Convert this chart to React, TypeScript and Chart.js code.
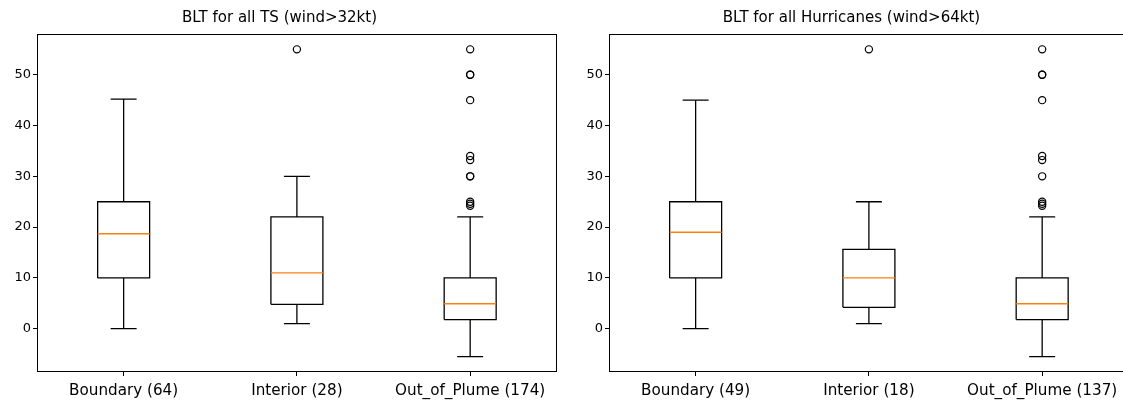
import React, { useEffect, useRef } from "react";
import { Chart, registerables } from "chart.js";

Chart.register(...registerables);

// ---------- data ----------
const titleTS = "BLT for all TS (wind>32kt)";
const titleHU = "BLT for all Hurricanes (wind>64kt)";

const categoriesTS = ["Boundary (64)", "Interior (28)", "Out_of_Plume (174)"];
const whiskerLowTS = [0, 1, -5.5];
const q1TS = [10, 4.8, 1.8];
const medianTS = [18.7, 11, 4.9];
const q3TS = [25, 22, 10];
const whiskerHighTS = [45.2, 30, 22];
const fliersTS = [[], [55], [55, 50, 50, 45, 34, 33.2, 30, 30, 25, 24.6, 24.2]];

const categoriesHU = ["Boundary (49)", "Interior (18)", "Out_of_Plume (137)"];
const whiskerLowHU = [0, 1, -5.5];
const q1HU = [10, 4.2, 1.8];
const medianHU = [19, 10, 4.9];
const q3HU = [25, 15.6, 10];
const whiskerHighHU = [45, 25, 22];
const fliersHU = [[], [55], [55, 50, 50, 45, 34, 33.2, 30, 25, 24.6, 24.2]];

const yTicks = [0, 10, 20, 30, 40, 50];
const yMin = -8.525;
const yMax = 58.025;

// ---------- styling ----------
const FONT = "DejaVu Sans";
const BOX_HALF = 0.15;
const CAP_HALF = 0.075;

type Pt = { x: number; y: number | null };

function buildDatasets(
  lo: number[],
  q1: number[],
  med: number[],
  q3: number[],
  hi: number[],
  fliers: number[][]
) {
  const lines: Pt[] = [];
  const meds: Pt[] = [];
  const pts: Pt[] = [];
  for (let i = 0; i < q1.length; i++) {
    const x = i + 1;
    const gap = { x, y: null };
    // box
    lines.push(
      { x: x - BOX_HALF, y: q1[i] },
      { x: x + BOX_HALF, y: q1[i] },
      { x: x + BOX_HALF, y: q3[i] },
      { x: x - BOX_HALF, y: q3[i] },
      { x: x - BOX_HALF, y: q1[i] },
      gap
    );
    // lower whisker + cap
    lines.push({ x, y: q1[i] }, { x, y: lo[i] }, { ...gap });
    lines.push({ x: x - CAP_HALF, y: lo[i] }, { x: x + CAP_HALF, y: lo[i] }, { ...gap });
    // upper whisker + cap
    lines.push({ x, y: q3[i] }, { x, y: hi[i] }, { ...gap });
    lines.push({ x: x - CAP_HALF, y: hi[i] }, { x: x + CAP_HALF, y: hi[i] }, { ...gap });
    // median
    meds.push({ x: x - BOX_HALF, y: med[i] }, { x: x + BOX_HALF, y: med[i] }, { ...gap });
    // fliers
    fliers[i].forEach((v) => pts.push({ x, y: v }));
  }
  return [
    {
      label: "median",
      data: meds,
      borderColor: "#ff7f0e",
      borderWidth: 1.4,
      pointRadius: 0,
      spanGaps: false,
      fill: false,
    },
    {
      label: "fliers",
      data: pts,
      showLine: false,
      pointRadius: 3.6,
      pointBorderWidth: 1.2,
      pointBorderColor: "#000",
      pointBackgroundColor: "rgba(0,0,0,0)",
      pointStyle: "circle",
    },
    {
      label: "boxes",
      data: lines,
      borderColor: "#000",
      borderWidth: 1.3,
      pointRadius: 0,
      spanGaps: false,
      fill: false,
    },
  ];
}

const framePlugin = {
  id: "frame",
  afterDatasetsDraw(chart: any) {
    const { ctx, chartArea } = chart;
    ctx.save();
    ctx.strokeStyle = "#000";
    ctx.lineWidth = 1;
    const l = Math.round(chartArea.left) + 0.5;
    const t = Math.round(chartArea.top) + 0.5;
    const r = Math.round(chartArea.right) - 0.5;
    const b = Math.round(chartArea.bottom) - 0.5;
    ctx.strokeRect(l, t, r - l, b - t);
    ctx.restore();
  },
};

function makeConfig(
  title: string,
  categories: string[],
  datasets: any[]
): any {
  return {
    type: "line",
    data: { datasets },
    options: {
      animation: false,
      responsive: false,
      events: [],
      layout: { padding: { left: 0, right: 3, top: 0, bottom: 0 } },
      plugins: {
        legend: { display: false },
        tooltip: { enabled: false },
        title: {
          display: true,
          text: title,
          color: "#000",
          font: { family: FONT, size: 15, weight: "normal" },
          padding: { top: 9, bottom: 7 },
        },
      },
      scales: {
        x: {
          type: "linear",
          min: 0.5,
          max: 3.5,
          bounds: "data",
          afterBuildTicks: (s: any) => {
            s.ticks = categories.map((_, i) => ({ value: i + 1 }));
          },
          afterFit: (s: any) => {
            s.height = 32;
          },
          ticks: {
            callback: (v: any) => categories[Math.round(v) - 1] ?? "",
            color: "#000",
            font: { family: FONT, size: 15.2 },
            maxRotation: 0,
            autoSkip: false,
            padding: 6,
          },
          grid: {
            drawOnChartArea: false,
            drawTicks: true,
            tickLength: 4,
            tickColor: "#000",
            tickWidth: 1,
          },
          border: { display: false },
        },
        y: {
          type: "linear",
          min: yMin,
          max: yMax,
          bounds: "data",
          afterBuildTicks: (s: any) => {
            s.ticks = yTicks.map((v) => ({ value: v }));
          },
          afterFit: (s: any) => {
            s.width = 37;
          },
          ticks: {
            color: "#000",
            font: { family: FONT, size: 13 },
            padding: 2,
          },
          grid: {
            drawOnChartArea: false,
            drawTicks: true,
            tickLength: 4,
            tickColor: "#000",
            tickWidth: 1,
          },
          border: { display: false },
        },
      },
    },
    plugins: [framePlugin],
  };
}

function BoxChart(props: {
  left: number;
  title: string;
  categories: string[];
  lo: number[];
  q1: number[];
  med: number[];
  q3: number[];
  hi: number[];
  fliers: number[][];
}) {
  const ref = useRef<HTMLCanvasElement | null>(null);
  useEffect(() => {
    if (!ref.current) return;
    const ds = buildDatasets(props.lo, props.q1, props.med, props.q3, props.hi, props.fliers);
    const chart = new Chart(ref.current, makeConfig(props.title, props.categories, ds));
    return () => chart.destroy();
  }, []);
  return (
    <canvas
      ref={ref}
      width={562}
      height={404}
      style={{ position: "absolute", left: props.left, top: 0, width: 562, height: 404 }}
    />
  );
}

export default function App() {
  return (
    <div
      style={{
        position: "fixed",
        left: 0,
        top: 0,
        width: 1123,
        height: 404,
        overflow: "hidden",
        background: "#fff",
      }}
    >
      <BoxChart
        left={0}
        title={titleTS}
        categories={categoriesTS}
        lo={whiskerLowTS}
        q1={q1TS}
        med={medianTS}
        q3={q3TS}
        hi={whiskerHighTS}
        fliers={fliersTS}
      />
      <BoxChart
        left={572}
        title={titleHU}
        categories={categoriesHU}
        lo={whiskerLowHU}
        q1={q1HU}
        med={medianHU}
        q3={q3HU}
        hi={whiskerHighHU}
        fliers={fliersHU}
      />
    </div>
  );
}
